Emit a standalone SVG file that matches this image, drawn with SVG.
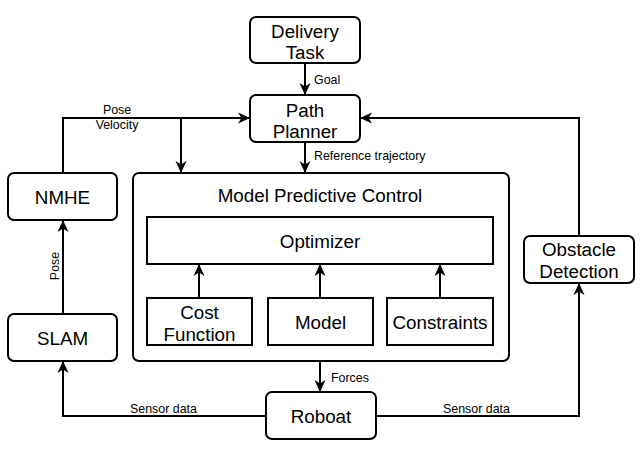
<svg xmlns="http://www.w3.org/2000/svg" width="643" height="467" viewBox="0 0 643 467">
<defs>
<style>
.n{fill:#fff;stroke:#000;stroke-width:2}
.t{font-family:"Liberation Sans",Arial,sans-serif;font-size:18.8px;fill:#000;text-anchor:middle}
.l{font-family:"Liberation Sans",Arial,sans-serif;font-size:12.4px;fill:#000}
.c{fill:none;stroke:#000;stroke-width:2}
</style>
<marker id="a" markerUnits="userSpaceOnUse" markerWidth="13" markerHeight="12" refX="12" refY="5.5" orient="auto" viewBox="0 0 13 11">
<path d="M0,0 L12,5.5 L0,11 L3.5,5.5 Z" fill="#000"/>
</marker>
</defs>
<rect width="643" height="467" fill="#fff"/>
<g id="connectors">
<line class="c" x1="305" y1="63" x2="305" y2="95" marker-end="url(#a)"/>
<line class="c" x1="305" y1="142" x2="305" y2="173" marker-end="url(#a)"/>
<polyline class="c" points="63,173 63,118 250,118" marker-end="url(#a)"/>
<line class="c" x1="181" y1="118" x2="181" y2="173" marker-end="url(#a)"/>
<line class="c" x1="63" y1="314" x2="63" y2="220" marker-end="url(#a)"/>
<polyline class="c" points="579,236 579,118 360,118" marker-end="url(#a)"/>
<line class="c" x1="199" y1="298" x2="199" y2="264" marker-end="url(#a)"/>
<line class="c" x1="320" y1="298" x2="320" y2="264" marker-end="url(#a)"/>
<line class="c" x1="440" y1="298" x2="440" y2="264" marker-end="url(#a)"/>
<line class="c" x1="320" y1="361" x2="320" y2="392" marker-end="url(#a)"/>
<polyline class="c" points="266,416 63,416 63,361" marker-end="url(#a)"/>
<polyline class="c" points="376,416 579,416 579,283" marker-end="url(#a)"/>
<text class="l" x="314" y="84">Goal</text>
<text class="l" x="314" y="160">Reference trajectory</text>
<text class="l" x="117" y="114" text-anchor="middle">Pose</text>
<text class="l" x="117" y="129" text-anchor="middle">Velocity</text>
<text class="l" x="59" y="266" text-anchor="middle" transform="rotate(-90 59 266)">Pose</text>
<text class="l" x="331" y="382">Forces</text>
<text class="l" x="163.5" y="412.5" text-anchor="middle">Sensor data</text>
<text class="l" x="476.5" y="412.5" text-anchor="middle">Sensor data</text>
</g>
<g id="delivery-task">
<rect class="n" x="250" y="17" width="110" height="46" rx="6"/>
<text class="t" x="305" y="37.5">Delivery</text>
<text class="t" x="305" y="59">Task</text>
</g>
<g id="path-planner">
<rect class="n" x="250" y="95" width="110" height="47" rx="6"/>
<text class="t" x="305" y="117">Path</text>
<text class="t" x="305" y="137.5">Planner</text>
</g>
<g id="mpc">
<rect class="n" x="133" y="173" width="376" height="188" rx="6" style="fill:none"/>
<text class="t" x="320" y="202">Model Predictive Control</text>
</g>
<g id="optimizer">
<rect class="n" x="147" y="217" width="346" height="47" style="fill:none"/>
<text class="t" x="320" y="248">Optimizer</text>
</g>
<g id="cost-function">
<rect class="n" x="147" y="298" width="105" height="47"/>
<text class="t" x="199.5" y="319">Cost</text>
<text class="t" x="199.5" y="341">Function</text>
</g>
<g id="model">
<rect class="n" x="268" y="298" width="105" height="47"/>
<text class="t" x="320.5" y="329">Model</text>
</g>
<g id="constraints">
<rect class="n" x="387" y="298" width="106" height="47"/>
<text class="t" x="440" y="329">Constraints</text>
</g>
<g id="nmhe">
<rect class="n" x="8" y="173" width="109" height="47" rx="6"/>
<text class="t" x="62.5" y="204">NMHE</text>
</g>
<g id="slam">
<rect class="n" x="8" y="314" width="109" height="47" rx="6"/>
<text class="t" x="62.5" y="345">SLAM</text>
</g>
<g id="obstacle-detection">
<rect class="n" x="524" y="236" width="110" height="47" rx="6"/>
<text class="t" x="579" y="256">Obstacle</text>
<text class="t" x="579" y="278">Detection</text>
</g>
<g id="roboat">
<rect class="n" x="266" y="392" width="110" height="47" rx="6"/>
<text class="t" x="321" y="423">Roboat</text>
</g>
</svg>
